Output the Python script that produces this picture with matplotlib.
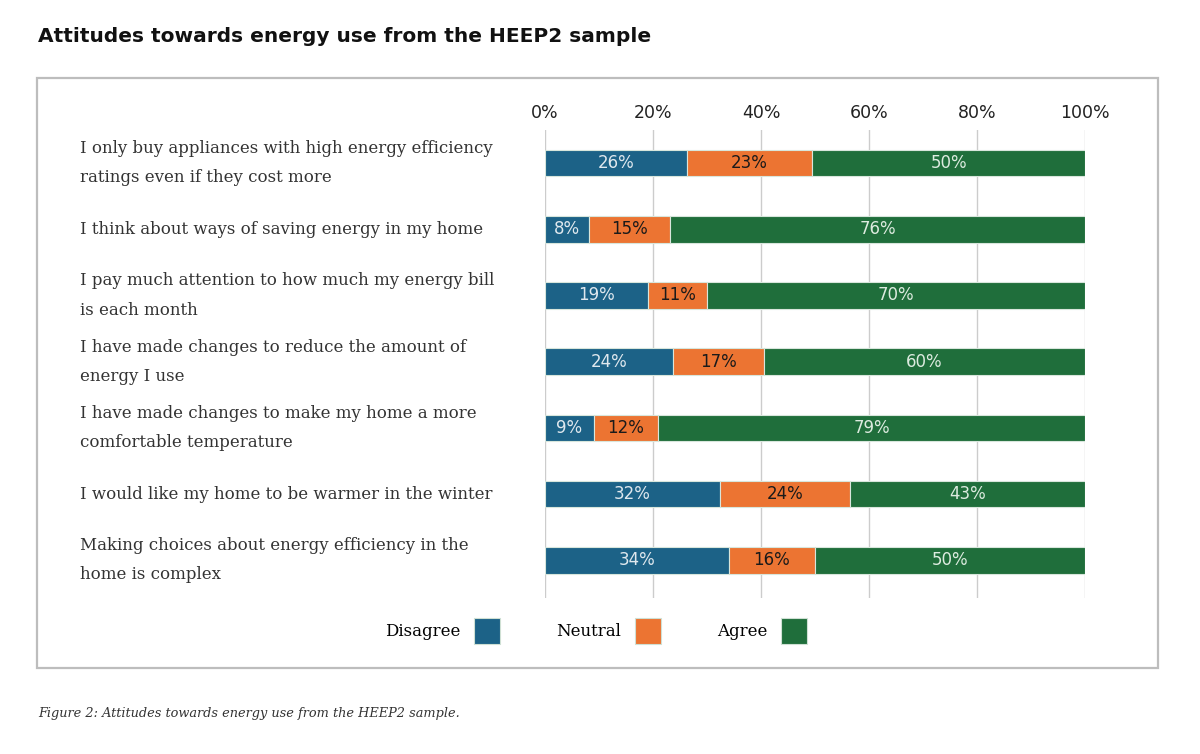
import numpy as np
import matplotlib
matplotlib.use("Agg")
import matplotlib.pyplot as plt
from matplotlib.patches import Rectangle, Patch
from matplotlib.transforms import blended_transform_factory

# data
statements = [
    "I only buy appliances with high energy efficiency\nratings even if they cost more",
    "I think about ways of saving energy in my home",
    "I pay much attention to how much my energy bill\nis each month",
    "I have made changes to reduce the amount of\nenergy I use",
    "I have made changes to make my home a more\ncomfortable temperature",
    "I would like my home to be warmer in the winter",
    "Making choices about energy efficiency in the\nhome is complex",
]
disagree = [26, 8, 19, 24, 9, 32, 34]
neutral = [23, 15, 11, 17, 12, 24, 16]
agree = [50, 76, 70, 60, 79, 43, 50]
series_names = ["Disagree", "Neutral", "Agree"]
colors = ["#1c6287", "#ec7432", "#1f6e3b"]
label_colors = ["#dfe8ee", "#1a1a1a", "#dcebdf"]

vals = np.array([disagree, neutral, agree], dtype=float)
shares = vals / vals.sum(axis=0) * 100  # 100% stacked

fig = plt.figure(figsize=(12, 7.54), dpi=100)
ax = fig.add_axes([0.4542, 0.2069, 0.45, 0.6207])

y = np.arange(len(statements))
left = np.zeros(len(statements))
for i in range(3):
    bars = ax.barh(y, shares[i], left=left, height=0.4, color=colors[i],
                   edgecolor="#d8e6dc", linewidth=0.8, zorder=3)
    for b, v in zip(bars, vals[i]):
        ax.text(b.get_x() + b.get_width() / 2, b.get_y() + b.get_height() / 2,
                f"{int(v)}%", ha="center", va="center", fontsize=12,
                color=label_colors[i], zorder=4)
    left += shares[i]

ax.set_xlim(0, 100)
ax.set_ylim(6.57, -0.5)
ax.set_xticks([0, 20, 40, 60, 80, 100])
ax.set_xticklabels(["0%", "20%", "40%", "60%", "80%", "100%"])
ax.xaxis.tick_top()
ax.tick_params(axis="x", length=0, pad=6, labelsize=12.5, labelcolor="#222222")
ax.set_yticks([])
ax.grid(axis="x", color="#cccccc", linewidth=1, zorder=0)
for s in ax.spines.values():
    s.set_visible(False)

# statement labels, left aligned
tr = blended_transform_factory(fig.transFigure, ax.transData)
for yi, txt in zip(y, statements):
    ax.text(80 / 1200, yi, txt, transform=tr, ha="left", va="center",
            fontsize=12, family="DejaVu Serif", color="#333333", linespacing=1.95)

# legend with the box after the text
handles = [Patch(facecolor=c, edgecolor="#cfe0d4", linewidth=0.8) for c in colors]
fig.legend(handles, series_names, loc="center", bbox_to_anchor=(596 / 1200, 1 - 631 / 754),
           ncol=3, frameon=False, markerfirst=False, handlelength=1.56, handleheight=2.0,
           handletextpad=0.8, columnspacing=3.4, prop={"family": "DejaVu Serif", "size": 12})

# outer grey frame
fig.patches.append(Rectangle((37 / 1200, 1 - 668 / 754), (1158 - 37) / 1200, (668 - 78) / 754,
                             transform=fig.transFigure, fill=False, edgecolor="#bdbdbd",
                             linewidth=1.6))

fig.text(38 / 1200, 1 - 37 / 754, "Attitudes towards energy use from the HEEP2 sample",
         fontsize=14.5, fontweight="bold", color="#111111", va="center", ha="left")
fig.text(38 / 1200, 1 - 714 / 754, "Figure 2: Attitudes towards energy use from the HEEP2 sample.",
         fontsize=9.3, style="italic", family="DejaVu Serif", color="#333333", va="center", ha="left")

fig.savefig("out.png", dpi=100, facecolor="white")
